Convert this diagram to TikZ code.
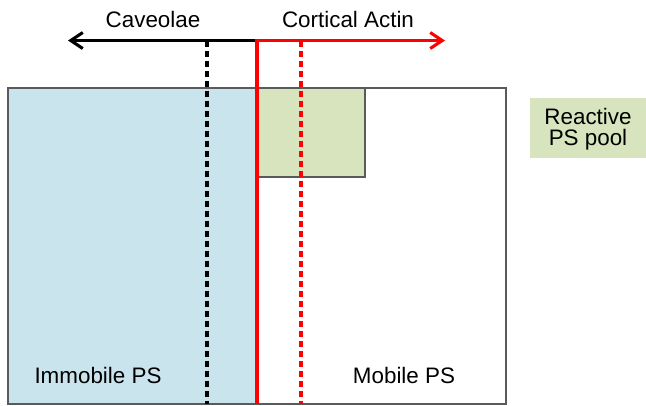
\documentclass[tikz,border=0pt]{standalone}
\usepackage{fontspec}
\setmainfont{Liberation Sans}
\usepackage{tikz, color}
\usetikzlibrary{arrows.meta}
\definecolor{azulclaro}{RGB}{201,228,236}
\definecolor{verdeclaro}{RGB}{215,228,189}
\definecolor{grisborde}{RGB}{90,90,90}

\begin{document}
\begin{tikzpicture}[x=0.75pt, y=-0.75pt, font=\fontsize{16.8}{15.8}\selectfont,
	borde/.style={draw=grisborde, line width=1.2pt},
	linea/.style={line width=2.4pt},
	rayas/.style={line width=2.4pt, dash pattern={on 5pt off 2.5pt}},
	punta/.style={-{Straight Barb[length=9pt, width=12pt, line width=2.3pt]}}]
\newcommand{\arriba}{88}
\newcommand{\abajo}{404}
\newcommand{\flecha}{40.5}
\newcommand{\corte}{257}
\useasboundingbox (0,0) rectangle (646,405);
\coordinate (O) at (8,\arriba);
\coordinate (A) at (\corte,\arriba);
\coordinate (B) at (\corte,\abajo);
\coordinate (C) at (506,\abajo);
\coordinate (E) at (365,177);
\coordinate (F) at (\corte,\flecha);
\coordinate (G) at (68,\flecha);
\coordinate (H) at (445,\flecha);
\coordinate (I) at (207,\flecha);
\coordinate (J) at (207,\abajo);
\coordinate (K) at (301,\flecha);
\coordinate (L) at (301,\abajo);

\fill [azulclaro] (O) rectangle (B);	% inmovil
\fill [verdeclaro] (A) rectangle (E);	% pool
\draw [borde] (O) rectangle (C);
\draw [borde] (A) rectangle (E);
\fill [verdeclaro] (530,98) rectangle (646,158);	% leyenda

\draw [rayas] (I) -- (J);	% rayas
\draw [rayas, red] (K) -- (L);
\draw [linea, punta] (F) -- (G);	% caveolas
\draw [linea, red, punta] (B) |- (H);	% actina

\node (cav) [anchor=base] at (153,27) {Caveolae};
\node (act) [anchor=base] at (348,27) {Cortical Actin};
\node (inm) [anchor=base] at (98,383) {Immobile PS};
\node (mob) [anchor=base] at (404,383) {Mobile PS};
\node (pool) [align=center] at (588,129) {Reactive\\PS pool};
\end{tikzpicture}
\end{document}
